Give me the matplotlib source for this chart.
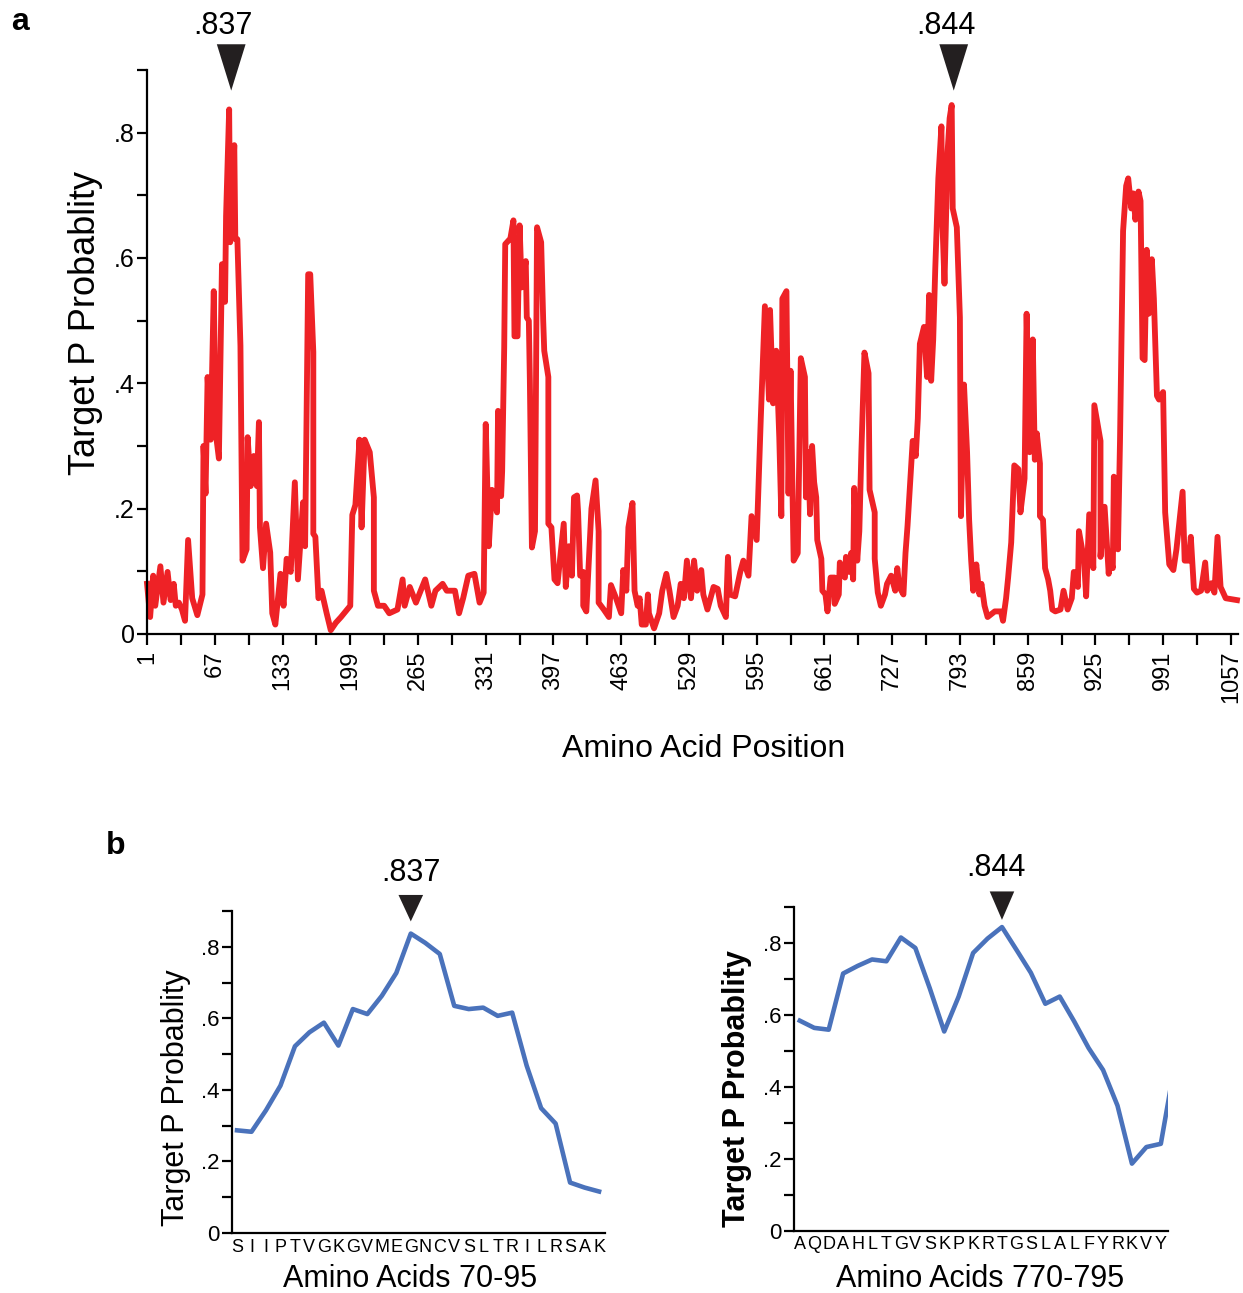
import numpy as np
import matplotlib
matplotlib.use("Agg")
import matplotlib.pyplot as plt
from matplotlib.patches import Polygon

plt.rcParams['font.family'] = ['Liberation Sans', 'DejaVu Sans']

# 全长序列 Target P 概率 (a)
pos_a = [1, 4, 7, 9, 14, 17, 21, 24, 27, 29, 32, 35, 38, 41, 45, 50, 55, 56, 58, 60,
         63, 66, 68, 71, 74, 77, 78, 81, 82, 86, 87, 89, 92, 94, 98, 99, 102, 105, 108, 110,
         111, 114, 117, 121, 123, 126, 131, 134, 137, 141, 145, 148, 153, 155, 158, 160, 163, 163, 165, 168,
         171, 176, 180, 185, 190, 199, 201, 204, 208, 210, 213, 218, 222, 222, 226, 232, 237, 245, 250, 252,
         257, 263, 272, 278, 282, 289, 293, 301, 305, 309, 314, 320, 325, 329, 331, 334, 337, 342, 343, 346,
         347, 349, 350, 355, 358, 359, 362, 364, 366, 370, 371, 373, 374, 376, 379, 381, 385, 387, 388, 392,
         392, 395, 398, 401, 407, 409, 412, 415, 417, 420, 421, 423, 426, 426, 429, 432, 434, 438, 441, 441,
         446, 451, 453, 458, 463, 465, 468, 470, 474, 476, 479, 481, 483, 487, 489, 490, 495, 500, 503, 507,
         510, 514, 518, 521, 524, 527, 531, 534, 537, 541, 543, 547, 553, 557, 560, 565, 567, 569, 574, 579,
         582, 587, 590, 595, 599, 603, 607, 608, 611, 614, 617, 619, 620, 624, 626, 628, 631, 635, 638, 642,
         643, 645, 647, 649, 651, 653, 654, 658, 659, 662, 664, 667, 671, 671, 675, 676, 681, 682, 685, 687,
         689, 690, 693, 695, 697, 700, 704, 705, 710, 710, 713, 716, 720, 722, 726, 730, 732, 734, 738, 740,
         742, 747, 750, 752, 754, 758, 761, 763, 765, 767, 769, 772, 775, 776, 778, 781, 783, 785, 786, 790,
         793, 794, 797, 800, 802, 804, 806, 809, 812, 814, 817, 820, 827, 833, 835, 838, 840, 843, 846, 850,
         852, 856, 858, 861, 864, 866, 868, 871, 871, 874, 876, 879, 881, 883, 886, 891, 894, 898, 902, 904,
         908, 909, 914, 916, 919, 923, 924, 930, 930, 934, 938, 939, 942, 943, 947, 949, 952, 955, 957, 960,
         962, 964, 967, 969, 971, 973, 975, 977, 980, 982, 985, 987, 991, 993, 997, 1001, 1004, 1010, 1012, 1016,
         1018, 1021, 1024, 1028, 1032, 1034, 1038, 1041, 1044, 1047, 1052, 1063]
prob_a = [0.08, 0.027, 0.093, 0.045, 0.108, 0.05, 0.099, 0.054, 0.08, 0.045, 0.05, 0.039, 0.021, 0.15, 0.057, 0.03, 0.063, 0.30, 0.224, 0.41,
          0.31, 0.547, 0.32, 0.28, 0.59, 0.53, 0.667, 0.837, 0.625, 0.78, 0.63, 0.63, 0.46, 0.117, 0.135, 0.314, 0.236, 0.284, 0.236, 0.338,
          0.17, 0.105, 0.176, 0.13, 0.033, 0.015, 0.096, 0.045, 0.12, 0.099, 0.242, 0.087, 0.21, 0.14, 0.574, 0.574, 0.45, 0.16, 0.155, 0.057,
          0.069, 0.033, 0.006, 0.018, 0.027, 0.045, 0.19, 0.206, 0.31, 0.17, 0.31, 0.29, 0.218, 0.069, 0.045, 0.045, 0.033, 0.039, 0.087, 0.045,
          0.075, 0.05, 0.087, 0.045, 0.069, 0.08, 0.069, 0.069, 0.033, 0.057, 0.093, 0.096, 0.05, 0.066, 0.335, 0.14, 0.23, 0.194, 0.356, 0.22,
          0.26, 0.457, 0.622, 0.631, 0.66, 0.475, 0.475, 0.652, 0.553, 0.595, 0.505, 0.50, 0.404, 0.138, 0.164, 0.649, 0.625, 0.50, 0.452, 0.41,
          0.176, 0.17, 0.087, 0.081, 0.176, 0.075, 0.14, 0.093, 0.218, 0.221, 0.194, 0.093, 0.099, 0.045, 0.036, 0.135, 0.20, 0.245, 0.164, 0.05,
          0.039, 0.027, 0.078, 0.057, 0.033, 0.102, 0.069, 0.17, 0.209, 0.069, 0.045, 0.057, 0.015, 0.015, 0.063, 0.033, 0.009, 0.033, 0.069, 0.096,
          0.069, 0.027, 0.045, 0.08, 0.057, 0.117, 0.057, 0.117, 0.069, 0.102, 0.063, 0.039, 0.075, 0.072, 0.045, 0.027, 0.123, 0.063, 0.06, 0.099,
          0.117, 0.093, 0.188, 0.15, 0.344, 0.523, 0.374, 0.517, 0.368, 0.452, 0.314, 0.188, 0.535, 0.547, 0.224, 0.42, 0.117, 0.129, 0.44, 0.41,
          0.218, 0.29, 0.191, 0.30, 0.242, 0.218, 0.15, 0.12, 0.069, 0.063, 0.036, 0.09, 0.09, 0.048, 0.063, 0.114, 0.09, 0.123, 0.099, 0.129,
          0.087, 0.233, 0.117, 0.164, 0.29, 0.449, 0.416, 0.23, 0.194, 0.12, 0.066, 0.045, 0.063, 0.08, 0.093, 0.069, 0.105, 0.075, 0.063, 0.129,
          0.173, 0.308, 0.284, 0.344, 0.463, 0.49, 0.41, 0.541, 0.404, 0.47, 0.583, 0.727, 0.81, 0.655, 0.559, 0.769, 0.823, 0.844, 0.679, 0.649,
          0.505, 0.188, 0.398, 0.29, 0.182, 0.117, 0.069, 0.111, 0.063, 0.08, 0.045, 0.027, 0.036, 0.036, 0.021, 0.057, 0.09, 0.146, 0.269, 0.263,
          0.194, 0.248, 0.511, 0.29, 0.47, 0.278, 0.32, 0.272, 0.188, 0.182, 0.105, 0.087, 0.069, 0.039, 0.036, 0.039, 0.069, 0.039, 0.057, 0.099,
          0.075, 0.164, 0.117, 0.06, 0.191, 0.105, 0.365, 0.308, 0.123, 0.203, 0.096, 0.123, 0.105, 0.251, 0.135, 0.308, 0.643, 0.715, 0.727, 0.679,
          0.703, 0.661, 0.706, 0.691, 0.44, 0.437, 0.613, 0.511, 0.598, 0.535, 0.38, 0.374, 0.386, 0.194, 0.111, 0.102, 0.135, 0.227, 0.117, 0.117,
          0.155, 0.072, 0.066, 0.069, 0.114, 0.069, 0.081, 0.066, 0.155, 0.075, 0.057, 0.054]

xticks_a = list(range(1, 1058, 33))
xticklabels_a = [str(v) if (v - 1) % 66 == 0 else '' for v in xticks_a]
yticks = [0, 0.1, 0.2, 0.3, 0.4, 0.5, 0.6, 0.7, 0.8, 0.9]
yticklabels = ['0', '', '.2', '', '.4', '', '.6', '', '.8', '']

# 局部放大 (b)
aa_left = list("SIIPTVGKGVMEGNCVSLTRILRSAK")
prob_left = [0.287, 0.283, 0.343, 0.412, 0.522, 0.561, 0.588, 0.524, 0.626, 0.612,
             0.663, 0.727, 0.837, 0.811, 0.780, 0.635, 0.626, 0.630, 0.607, 0.616,
             0.468, 0.349, 0.306, 0.141, 0.127, 0.116]
aa_right = list("AQDAHLTGVSKPKRTGSLALFYRKVY")
prob_right = [0.584, 0.564, 0.559, 0.715, 0.736, 0.754, 0.749, 0.815, 0.786, 0.674,
              0.554, 0.651, 0.772, 0.812, 0.844, 0.781, 0.717, 0.631, 0.651, 0.582,
              0.508, 0.447, 0.348, 0.187, 0.233, 0.242, 0.47]

RED = '#ee2226'
BLUE = '#4a72bb'

fig = plt.figure(figsize=(12.43, 12.93), dpi=100)


def style_axes(ax, tick_size):
    for s in ['top', 'right']:
        ax.spines[s].set_visible(False)
    for s in ['left', 'bottom']:
        ax.spines[s].set_linewidth(1.6)
    ax.set_ylim(0, 0.9)
    ax.set_yticks(yticks)
    ax.set_yticklabels(yticklabels, fontsize=tick_size)
    ax.tick_params(axis='y', direction='out', length=7, width=1.6, pad=2)


def marker(ax, x, txt, half_w, y_tip, y_top, txt_x, txt_y, fs):
    tri = Polygon([[x - half_w, y_top], [x + half_w, y_top], [x, y_tip]],
                  closed=True, facecolor='#231f20', edgecolor='none', clip_on=False)
    ax.add_patch(tri)
    ax.text(txt_x, txt_y, txt, ha='center', va='baseline', fontsize=fs, clip_on=False)


# ---- a ----
ax = fig.add_axes([0.1183, 0.5097, 0.8777, 0.4362])
style_axes(ax, 18)
ax.plot(pos_a, prob_a, color=RED, lw=4.2, solid_joinstyle='round', clip_on=False)
ax.set_xlim(1, 1064)
ax.set_xticks(xticks_a)
ax.set_xticklabels(xticklabels_a, rotation=90, fontsize=17)
ax.tick_params(axis='x', direction='out', length=8, width=1.6, pad=4)
ax.set_ylabel('Target P Probablity', fontsize=26)
ax.yaxis.set_label_coords(-0.040, 0.551)
ax.set_xlabel('Amino Acid Position', fontsize=23)
ax.xaxis.set_label_coords(0.51, -0.178)

pa = np.array(prob_a)
for lo, hi in [(0, 400), (600, 1100)]:
    idx = [i for i, p in enumerate(pos_a) if lo <= p < hi]
    k = idx[int(np.argmax(pa[idx]))]
    marker(ax, pos_a[k] + 2, '.%03d' % round(pa[k] * 1000), 14, 0.867, 0.941,
           pos_a[k] - 6, 0.958, 22)

fig.text(0.009, 0.983, 'a', fontsize=23, fontweight='bold', va='center')
fig.text(0.085, 0.346, 'b', fontsize=23, fontweight='bold', va='center')

# ---- b left ----
axl = fig.add_axes([0.1866, 0.0464, 0.300, 0.249])
style_axes(axl, 16)
xl = np.arange(len(prob_left))
axl.plot(xl, prob_left, color=BLUE, lw=3.3, solid_joinstyle='round')
axl.set_xlim(-0.35, 25.4)
axl.set_xticks(xl)
axl.set_xticklabels(aa_left, fontsize=13)
axl.tick_params(axis='x', length=0, pad=4)
axl.set_ylabel('Target P Probablity', fontsize=22)
axl.yaxis.set_label_coords(-0.11, 0.42)
axl.set_xlabel('Amino Acids 70-95', fontsize=22)
axl.xaxis.set_label_coords(0.477, -0.097)
kl = int(np.argmax(prob_left))
marker(axl, xl[kl], '.%03d' % round(prob_left[kl] * 1000), 0.85, 0.871, 0.945,
       xl[kl], 0.985, 22)

# ---- b right ----
axr = fig.add_axes([0.6388, 0.048, 0.3009, 0.2506])
style_axes(axr, 16)
xr = np.arange(len(prob_right))
axr.plot(xr, prob_right, color=BLUE, lw=3.3, solid_joinstyle='round')
axr.set_xlim(-0.4, 25.5)
axr.set_xticks(np.arange(len(aa_right)))
axr.set_xticklabels(aa_right, fontsize=13)
axr.tick_params(axis='x', length=0, pad=4)
axr.set_ylabel('Target P Probablity', fontsize=22, fontweight='bold')
axr.yaxis.set_label_coords(-0.112, 0.44)
axr.set_xlabel('Amino Acids 770-795', fontsize=22)
axr.xaxis.set_label_coords(0.497, -0.103)
kr = int(np.argmax(prob_right))
marker(axr, xr[kr], '.%03d' % round(prob_right[kr] * 1000), 0.85, 0.864, 0.943,
       xr[kr] - 0.4, 0.985, 22)

fig.savefig('out.png', dpi=100)
